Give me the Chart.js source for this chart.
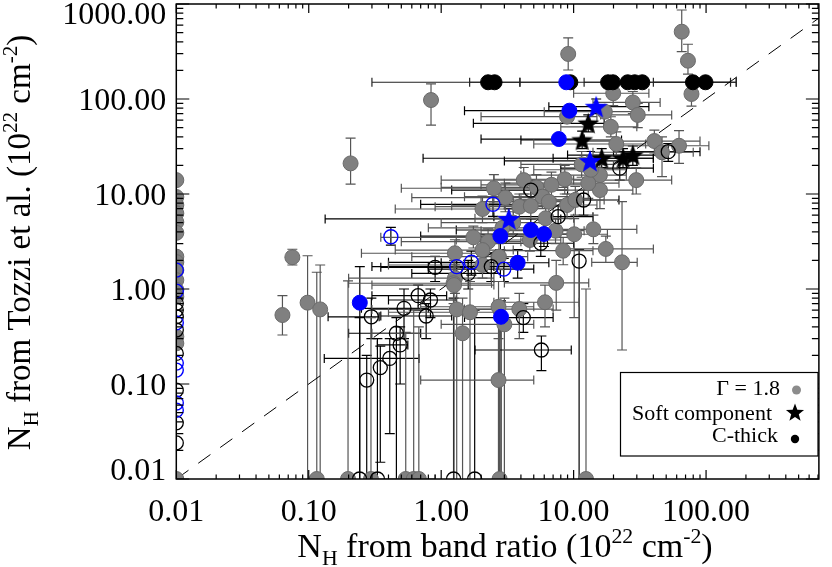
<!DOCTYPE html>
<html>
<head>
<meta charset="utf-8">
<script src="https://cdn.jsdelivr.net/npm/chart.js@4.4.1/dist/chart.umd.min.js"></script>
<style>
  html, body { margin: 0; padding: 0; background: #fff; }
  #wrap { width: 832px; height: 567px; }
</style>
</head>
<body>
<div id="wrap"><canvas id="nhChart" width="832" height="567"></canvas></div>
<script>
// axis ranges and tick labels
const xRange = [0.01, 711];
const yRange = [0.01, 1000];
const xDecades = [0.01, 0.1, 1, 10, 100];
const xTickLabels = ['0.01', '0.10', '1.00', '10.00', '100.00'];
const yDecades = [0.01, 0.1, 1, 10, 100, 1000];
const yTickLabels = ['0.01', '0.10', '1.00', '10.00', '100.00', '1000.00'];

// points: [x, y, xLow, xHigh, yLow, yHigh]  (null = no bar, 0.001 = bar runs off the axis)
const gammaPoints = [
    [0.01, 14.0], [0.01, 9.3], [0.01, 7.66], [0.01, 6.26], [0.01, 5.07], [0.01, 3.9],
    [0.01, 2.19], [0.01, 1.92], [0.01, 1.58], [0.01, 1.24], [0.01, 0.98], [0.01, 0.83],
    [0.01, 0.315], [0.01, 0.268], [0.01, 0.01],
    [0.207, 21.0, null, null, 12.7, 38.8],
    [0.0752, 2.16, null, null, 1.79, 2.62],
    [0.0633, 0.532, null, null, 0.328, 0.85],
    [0.098, 0.718, null, null, 0.001, 2.24],
    [0.122, 0.61, null, null, 0.001, 1.79],
    [0.838, 97.5, null, null, 53, 144],
    [9.1, 298, null, null, 202, 439],
    [65.5, 511, null, null, 315, 865],
    [73, 253, null, null, 183, 377],
    [77.6, 113, null, null, 84, 140],
    [19.9, 115, 10, 37, 85, 158],
    [28, 92, 14, 45, 70, 120],
    [30.5, 68, 16, 55, 50, 90],
    [19.1, 51, 8, 30, 40, 65],
    [17.2, 73.5, 6, 30, null, null],
    [21, 33.6, 5, 35, 25, 45],
    [40.7, 36.1, 12, 90, 27, 47],
    [46.5, 27.5, 14, 80, 15.2, 40],
    [62.5, 32.2, 20, 105, 21, 46.4],
    [29.7, 14.0, 10, 55, 10, 19],
    [15.8, 11.0, 5, 28, 7, 16],
    [15.8, 15.8, 4, 25, 11, 22],
    [12.9, 13.0, 3, 22, 9, 18],
    [8.57, 14.3, 2.5, 14, 10, 20],
    [5.24, 11.75, 1.0, 9, 8, 16],
    [3.05, 9.15, 0.6, 5.5, 6.5, 13],
    [2.05, 6.95, 0.45, 3.5, 5, 9.5],
    [3.89, 7.35, 0.9, 7, 5.5, 10],
    [4.75, 7.5, 1.2, 8, 5.5, 10],
    [5.81, 9.37, 1.5, 10, 7, 12],
    [6.5, 8.3, 2, 11, 6, 11],
    [6.15, 5.55, 1.8, 10, 4, 7.5],
    [8.92, 7.66, 3, 15, 5.5, 10],
    [10.3, 8.65, 3.5, 17, 6, 12],
    [7.3, 4.11, 2, 12, 3, 5.5],
    [10.1, 3.77, 3, 18, 0.5, 5.5],
    [14.1, 4.25, 5, 30, 3, 6],
    [8.34, 2.53, 3, 14, 1.8, 3.5],
    [17.5, 2.64, 8, 40, 1.9, 3.6],
    [23.2, 1.91, 13.7, 30.2, 0.228, 8.3],
    [4.67, 3.28, 1.3, 8, 2.5, 4.5],
    [2.26, 3.15, 0.5, 4, 2.3, 4.3],
    [2.05, 2.57, 0.45, 3.5, 1.9, 3.5],
    [2.73, 2.19, 0.6, 4.5, 1.6, 3],
    [1.27, 2.38, 0.25, 2.2, 1.7, 3.3],
    [1.27, 1.3, 0.2, 2.5, 0.9, 1.8],
    [2.05, 1.79, 0.4, 3.5, 1.3, 2.5],
    [1.24, 1.15, 0.2, 2.4, 0.7, 1.6],
    [7.39, 1.16, 3, 13, 0.6, 2],
    [6.08, 0.725, 2.5, 11, 0.4, 1.1],
    [3.89, 0.615, 1.5, 7, 0.3, 0.9],
    [3.0, 0.425, 1.0, 5, 0.001, 0.8],
    [2.71, 0.65, 0.7, 5, 0.001, 1.2],
    [2.71, 0.11, 0.7, 5, 0.001, 0.3],
    [1.25, 1.10, 0.3, 2.5, 0.001, 2],
    [1.31, 0.61, 0.3, 2.5, 0.001, 1.5],
    [1.65, 0.569, 0.4, 3, 0.001, 1.2],
    [1.45, 0.342, 0.3, 2.8, 0.001, 0.8],
    [8.92, 65.2, 2, 15, null, null],
    [2.5, 11.5, 0.5, 5, 8, 16],
    [4.2, 14.0, 1, 8, 10, 19],
    [11.5, 20.5, 4, 20, 15, 28],
    [13.5, 18.0, 5, 25, 13, 25],
    [6.8, 12.5, 2, 12, 9, 17],
    [3.5, 5.0, 1.0, 6, 3.8, 6.5],
    [2.9, 4.4, 0.8, 5, 3.3, 5.8],
    [1.75, 3.5, 0.35, 3, 2.7, 4.6],
    [0.115, 0.01, null, null, null, 1.5],
    [0.198, 0.01, null, null, null, 1.22],
    [0.295, 0.01, null, null, null, 0.5],
    [0.54, 0.01, 0.3, 0.9, null, 0.35],
    [0.62, 0.01, null, null, null, 0.6],
    [0.678, 0.01, null, null, null, 0.4],
    [2.76, 0.01, null, null, null, 0.5],
    [12.4, 0.01, null, null, null, 1.0]
];

const openPoints = [
    [0.01, 0.707], [0.01, 0.6], [0.01, 0.51], [0.01, 0.37], [0.01, 0.21],
    [0.01, 0.086], [0.01, 0.039], [0.01, 0.024],
    [0.297, 0.51, 0.14, 0.34, 0.3, 0.8],
    [0.524, 0.626, 0.25, 0.8, 0.3, 1.0],
    [0.67, 0.85, 0.3, 1.1, 0.6, 1.1],
    [0.83, 0.766, 0.4, 1.3, 0.5, 1.0],
    [0.77, 0.52, 0.35, 1.2, 0.3, 0.7],
    [0.459, 0.342, 0.2, 0.7, 0.001, 0.5],
    [0.49, 0.258, 0.33, 0.56, 0.1, 0.4],
    [0.409, 0.186, 0.131, 0.68, 0.03, 0.3],
    [0.347, 0.149, null, null, 0.015, 0.25],
    [0.274, 0.110, null, null, 0.001, 0.2],
    [0.9, 1.69, 0.35, 1.6, 1.2, 2.2],
    [1.6, 1.46, 0.6, 2.8, 1.0, 2.0],
    [2.39, 1.72, 0.8, 4, 1.2, 2.4],
    [5.65, 3.03, 2, 10, 2.2, 4],
    [7.64, 5.77, 2.5, 14, 4, 7.5],
    [11.9, 8.65, 4, 22, 6, 11],
    [4.75, 11.0, 1.2, 9, 8, 14],
    [11.0, 1.97, null, null, 0.001, 2.6],
    [4.17, 0.50, 1.5, 7, 0.35, 0.7],
    [5.71, 0.228, 1.8, 9.6, 0.138, 0.32],
    [22.3, 18.7, 8, 40, 14, 24],
    [51.8, 27.9, 20, 90, 22, 34],
    [0.242, 0.01, null, null, null, 0.5],
    [0.33, 0.01, null, null, null, 0.3],
    [1.24, 0.01, null, null, null, 0.8],
    [1.79, 0.01, null, null, null, 0.6]
];

const blueOpenPoints = [
    [0.01, 1.58], [0.01, 0.95], [0.01, 0.44], [0.01, 0.166], [0.01, 0.14],
    [0.01, 0.063], [0.01, 0.053],
    [0.417, 3.55, null, null, 2.9, 4.46],
    [2.46, 7.79, 0.7, 4.5, 5.8, 10],
    [1.31, 1.72, 0.3, 2.5, 1.2, 2.3],
    [1.69, 1.91, 0.4, 3, 1.4, 2.5],
    [2.97, 1.62, 0.8, 5, 1.2, 2.1]
];

const bluePoints = [
    [9.29, 75.3, 1.5, 14, null, null],
    [7.73, 37.9, 2, 12, null, null],
    [8.8, 150],
    [2.8, 3.61, 0.7, 5, 2.6, 5],
    [4.75, 4.18, 1.3, 8, 3, 5.5],
    [5.97, 3.79, 1.8, 10, 2.8, 5],
    [3.78, 1.89, 1.0, 6.5, 1.3, 2.6],
    [2.83, 0.51, null, null, 0.001, 0.75],
    [0.243, 0.718, null, null, 0.001, 1.72]
];

const softPoints = [
    [12.9, 55.5, 1.75, 17, 45, 68],
    [11.6, 37, 4.0, 23, 30, 46],
    [16.3, 23.8, 0.73, 40, 19, 30],
    [23.6, 23.8, 7, 40, 19, 30],
    [28.0, 25.7, 9, 45, 20, 32]
];

const softBluePoints = [
    [14.8, 83, 6.5, 37, 70, 100],
    [13.3, 22.3, 3, 30, 17, 28],
    [3.24, 5.46, 0.133, 8, 4.3, 7]
];

const thickPoints = [
    [2.26, 150, 0.30, 3.93],
    [2.53, 150, 1.64, 9.45],
    [9.45, 150],
    [18.2, 150, 3.93, 153],
    [19.8, 150],
    [25.6, 150],
    [28.9, 150],
    [33, 150, 12, 169],
    [79.6, 150],
    [99, 150, 40, 169]
];

const oneToOne = [[0.01, 0.01], [1000, 1000]];

const FONT = "'Liberation Serif', 'Times New Roman', serif";

// every 1..9 x decade inside the range
function tickValues(decades, max) {
    const out = [];
    decades.forEach(d => {
        for (let k = 1; k <= 9; k++) {
            const v = Number((k * d).toPrecision(6));
            if (v <= max * 1.0001) out.push(v);
        }
    });
    return out;
}

function isDecade(v, decades) {
    return decades.findIndex(d => Math.abs(v - d) / d < 1e-6);
}

function starCanvas(fill, r) {
    const c = document.createElement('canvas');
    const s = Math.ceil(r * 2 + 2);
    c.width = c.height = s;
    const g = c.getContext('2d');
    g.translate(s / 2, s / 2 + r * 0.08);
    starPath(g, r);
    g.fillStyle = fill;
    g.fill();
    return c;
}

function starPath(g, r) {
    g.beginPath();
    for (let i = 0; i < 10; i++) {
        const rr = i % 2 ? r * 0.42 : r;
        const a = -Math.PI / 2 + i * Math.PI / 5;
        g.lineTo(rr * Math.cos(a), rr * Math.sin(a));
    }
    g.closePath();
}

const toXY = arr => arr.map(p => ({ x: p[0], y: p[1] }));

// rich text with sub/superscripts, centred on (0, 0) baseline
function drawRich(ctx, parts, size) {
    const small = size * 0.64;
    const widths = parts.map(p => {
        ctx.font = (p.sub || p.sup ? small : size) + 'px ' + FONT;
        return ctx.measureText(p.t).width;
    });
    let x = -widths.reduce((a, b) => a + b, 0) / 2;
    parts.forEach((p, i) => {
        ctx.font = (p.sub || p.sup ? small : size) + 'px ' + FONT;
        const dy = p.sub ? size * 0.24 : p.sup ? -size * 0.4 : 0;
        ctx.fillText(p.t, x, dy);
        x += widths[i];
    });
}

const xTitle = [{ t: 'N' }, { t: 'H', sub: true }, { t: ' from band ratio (10' }, { t: '22', sup: true },
    { t: ' cm' }, { t: '-2', sup: true }, { t: ')' }];
const yTitle = [{ t: 'N' }, { t: 'H', sub: true }, { t: ' from Tozzi et al. (10' }, { t: '22', sup: true },
    { t: ' cm' }, { t: '-2', sup: true }, { t: ')' }];

const idlFrame = {
    id: 'idlFrame',
    beforeDatasetsDraw(chart) {
        const { ctx, chartArea: a, scales: { x, y } } = chart;
        const cap = 4.5;
        ctx.save();
        ctx.beginPath();
        ctx.rect(a.left, a.top, a.right - a.left, a.bottom - a.top);
        ctx.clip();
        ctx.lineWidth = 1.2;
        chart.data.datasets.forEach(ds => {
            if (!ds.errors) return;
            ctx.strokeStyle = ds.errorColor;
            ds.errors.forEach(p => {
                const px = x.getPixelForValue(p[0]);
                const py = y.getPixelForValue(p[1]);
                ctx.beginPath();
                [p[2], p[3]].forEach(v => {
                    if (v == null) return;
                    const e = x.getPixelForValue(v);
                    ctx.moveTo(px, py); ctx.lineTo(e, py);
                    ctx.moveTo(e, py - cap); ctx.lineTo(e, py + cap);
                });
                [p[4], p[5]].forEach(v => {
                    if (v == null) return;
                    const e = y.getPixelForValue(v);
                    ctx.moveTo(px, py); ctx.lineTo(px, e);
                    ctx.moveTo(px - cap - 0.5, e); ctx.lineTo(px + cap + 0.5, e);
                });
                ctx.stroke();
            });
        });
        ctx.restore();
    },
    afterDraw(chart) {
        const { ctx, chartArea: a, scales: { x, y } } = chart;
        ctx.save();
        ctx.strokeStyle = '#000';
        ctx.fillStyle = '#000';
        ctx.lineWidth = 1.5;
        ctx.strokeRect(a.left, a.top, a.right - a.left, a.bottom - a.top);

        ctx.lineWidth = 1.2;
        ctx.beginPath();
        x.ticks.forEach(t => {
            const px = x.getPixelForValue(t.value);
            const len = isDecade(t.value, xDecades) >= 0 ? 9 : 4.5;
            ctx.moveTo(px, a.bottom); ctx.lineTo(px, a.bottom - len);
            ctx.moveTo(px, a.top); ctx.lineTo(px, a.top + len);
        });
        y.ticks.forEach(t => {
            const py = y.getPixelForValue(t.value);
            const len = isDecade(t.value, yDecades) >= 0 ? 13 : 7;
            ctx.moveTo(a.left, py); ctx.lineTo(a.left + len, py);
            ctx.moveTo(a.right, py); ctx.lineTo(a.right - len, py);
        });
        ctx.stroke();

        // y tick labels, kept inside the frame at the ends
        ctx.font = '32px ' + FONT;
        ctx.textAlign = 'right';
        ctx.textBaseline = 'alphabetic';
        yDecades.forEach((d, i) => {
            const py = y.getPixelForValue(d);
            const base = Math.min(Math.max(py + 10.8, a.top + 20), a.bottom + 1);
            ctx.fillText(yTickLabels[i], a.left - 10, base);
        });

        // axis titles
        ctx.textAlign = 'left';
        ctx.save();
        ctx.translate(505, 557);
        drawRich(ctx, xTitle, 34);
        ctx.restore();
        ctx.save();
        ctx.translate(30, (a.top + a.bottom) / 2 + 1);
        ctx.rotate(-Math.PI / 2);
        drawRich(ctx, yTitle, 33);
        ctx.restore();

        // legend box
        ctx.fillStyle = '#fff';
        ctx.fillRect(620.5, 372.5, 197.5, 83.5);
        ctx.lineWidth = 1.2;
        ctx.strokeRect(620.5, 372.5, 197.5, 83.5);
        ctx.fillStyle = '#000';
        ctx.font = '22px ' + FONT;
        ctx.textAlign = 'right';
        ctx.fillText('\u0393 = 1.8', 780, 395);
        ctx.fillText('Soft component', 772, 420);
        ctx.fillText('C-thick', 778, 442);
        ctx.fillStyle = '#8c8c8c';
        ctx.beginPath(); ctx.arc(796.5, 390, 4.5, 0, Math.PI * 2); ctx.fill();
        ctx.fillStyle = '#000';
        ctx.save(); ctx.translate(795, 413); starPath(ctx, 9.5); ctx.fill(); ctx.restore();
        ctx.beginPath(); ctx.arc(795, 439, 4.2, 0, Math.PI * 2); ctx.fill();
        ctx.restore();
    }
};

const ctx = document.getElementById('nhChart').getContext('2d');
new Chart(ctx, {
    type: 'scatter',
    data: {
        datasets: [
            {
                label: 'Soft component (blue)', data: toXY(softBluePoints), errors: softBluePoints, errorColor: '#000',
                pointStyle: starCanvas('#0000ff', 12), pointRadius: 12, order: 1, clip: 0
            },
            {
                label: 'Soft component', data: toXY(softPoints), errors: softPoints, errorColor: '#000',
                pointStyle: starCanvas('#000', 11.5), pointRadius: 12, order: 1, clip: 0
            },
            {
                label: 'C-thick', data: toXY(thickPoints), errors: thickPoints, errorColor: '#222',
                pointRadius: 7.5, backgroundColor: '#000', borderColor: '#000', borderWidth: 1, order: 3, clip: 0
            },
            {
                label: 'Blue', data: toXY(bluePoints), errors: bluePoints, errorColor: '#000',
                pointRadius: 7.5, backgroundColor: '#0000ff', borderColor: '#0000ff', borderWidth: 1, order: 2, clip: 0
            },
            {
                label: 'Blue open', data: toXY(blueOpenPoints), errors: blueOpenPoints, errorColor: '#000',
                pointRadius: 7, backgroundColor: 'rgba(0,0,0,0)', borderColor: '#0000ff', borderWidth: 1.4, order: 4, clip: 0
            },
            {
                label: 'Open', data: toXY(openPoints), errors: openPoints, errorColor: '#000',
                pointRadius: 7, backgroundColor: 'rgba(0,0,0,0)', borderColor: '#000', borderWidth: 1.3, order: 4, clip: 0
            },
            {
                label: '\u0393 = 1.8', data: toXY(gammaPoints), errors: gammaPoints, errorColor: '#555',
                pointRadius: 7.5, backgroundColor: '#808080', borderColor: '#6a6a6a', borderWidth: 1, order: 5, clip: 0
            },
            {
                type: 'line', label: '1:1', data: toXY(oneToOne), borderColor: '#000', borderWidth: 1,
                borderDash: [15, 12], pointRadius: 0, fill: false, order: 6, clip: 0
            }
        ]
    },
    options: {
        responsive: false,
        animation: false,
        events: [],
        layout: { autoPadding: false, padding: { left: 0, right: 5.5, top: 4, bottom: 0 } },
        plugins: { legend: { display: false }, tooltip: { enabled: false } },
        scales: {
            x: {
                type: 'logarithmic', min: xRange[0], max: xRange[1],
                grid: { display: false, drawTicks: false },
                border: { display: false },
                ticks: {
                    autoSkip: false, maxRotation: 0, padding: 14, color: '#000',
                    font: { family: FONT, size: 32 },
                    callback: v => {
                        const i = isDecade(v, xDecades);
                        return i >= 0 ? xTickLabels[i] : '';
                    }
                },
                afterBuildTicks: s => { s.ticks = tickValues(xDecades, xRange[1]).map(v => ({ value: v })); },
                afterFit: s => { s.height = 88; }
            },
            y: {
                type: 'logarithmic', min: yRange[0], max: yRange[1],
                grid: { display: false, drawTicks: false },
                border: { display: false },
                ticks: { display: false },
                afterBuildTicks: s => { s.ticks = tickValues(yDecades, yRange[1]).map(v => ({ value: v })); },
                afterFit: s => { s.width = 176.3; }
            }
        }
    },
    plugins: [idlFrame]
});
</script>
</body>
</html>
